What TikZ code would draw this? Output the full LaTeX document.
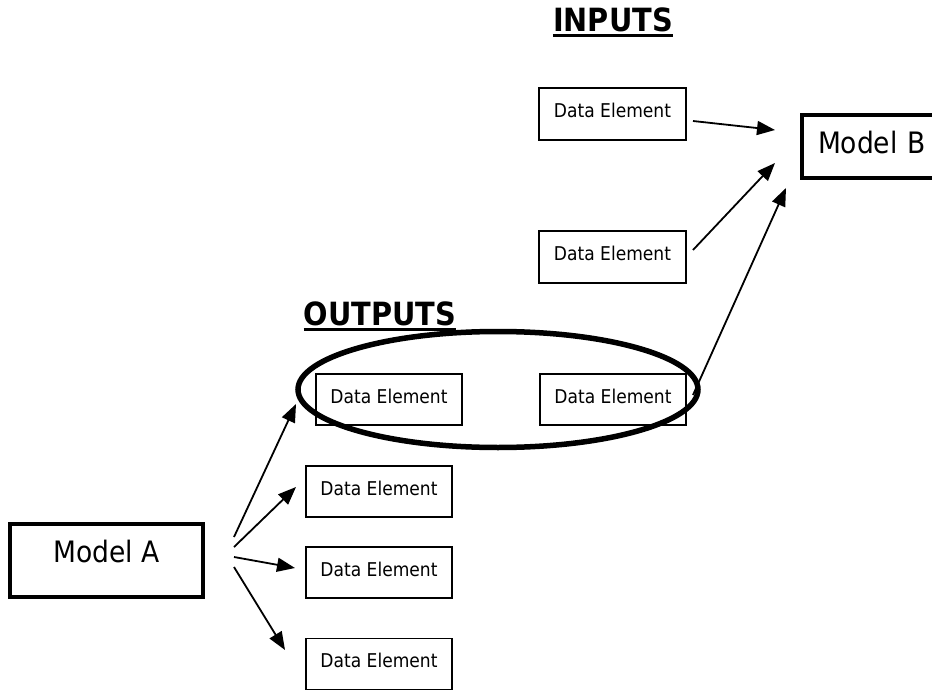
\documentclass[tikz,border=0pt]{standalone}
\usepackage{fontspec}
\setmainfont{DejaVu Sans Condensed}
\usetikzlibrary{arrows.meta,shapes.geometric}
\begin{document}
\begin{tikzpicture}[x=1pt,y=-1pt,
  databox/.style={draw,line width=1.5pt,minimum width=146pt,minimum height=51pt,inner sep=0pt,
    font=\fontsize{19}{21}\selectfont,text depth=7pt},
  modelbox/.style={draw,line width=3.8pt,inner sep=0pt,font=\fontsize{29.5}{31}\selectfont},
  heading/.style={inner sep=0pt,anchor=base,font=\fontsize{32}{34}\selectfont\bfseries},
  uline/.style={line width=2.4pt},
  arr/.style={line width=1.8pt,-{Triangle[length=18pt,width=14pt]}},
  ring/.style={line width=5.5pt}]
\useasboundingbox (0,0) rectangle (932,690);

% headings
\node[heading] (inputs) at (613,32) {INPUTS};
\draw[uline] ([yshift=-3.5pt]inputs.base west) -- ([yshift=-3.5pt]inputs.base east);
\node[heading] (outputs) at (380,325) {OUTPUTS};
\draw[uline] ([yshift=-4.5pt]outputs.base west) -- ([yshift=-4.5pt]outputs.base east);

% models
\node[modelbox,minimum width=193pt,minimum height=73pt,text depth=18pt] (ma) at (106.5,560.5) {Model A};
\node[modelbox,minimum width=150pt,minimum height=63pt,text depth=8pt,text width=118pt,align=left] (mb) at (877,146.5) {Model B};

% data elements
\node[databox,minimum width=147pt,minimum height=52pt] (i1) at (612.5,114) {Data Element};
\node[databox,minimum width=147pt,minimum height=52pt] (i2) at (612.5,257) {Data Element};
\node[databox] (o1) at (389,399.5) {Data Element};
\node[databox] (o2) at (613,399.5) {Data Element};
\node[databox] (l2) at (379,491.5) {Data Element};
\node[databox] (l3) at (379,572.5) {Data Element};
\node[databox] (l4) at (379,664) {Data Element};

% oval around outputs
\node[draw,ring,ellipse,minimum width=400pt,minimum height=116pt,inner sep=0pt] (oval) at (498,389.5) {};

% connector end points
\coordinate (a1) at (234,537);
\coordinate (a2) at (234,547);
\coordinate (a3) at (234,557);
\coordinate (a4) at (234,567);
\coordinate (t1) at (296,404);
\coordinate (t2) at (296,487);
\coordinate (t3) at (295,568);
\coordinate (t4) at (285,650);
\coordinate (b1) at (693,121);
\coordinate (b2) at (693,250);
\coordinate (b3) at (693,395);
\coordinate (u1) at (775,130);
\coordinate (u2) at (775,163);
\coordinate (u3) at (786,188);

\draw[arr] (a1) -- (t1);
\draw[arr] (a2) -- (t2);
\draw[arr] (a3) -- (t3);
\draw[arr] (a4) -- (t4);
\draw[arr] (b1) -- (u1);
\draw[arr] (b2) -- (u2);
\draw[arr] (b3) -- (u3);
\end{tikzpicture}
\end{document}
